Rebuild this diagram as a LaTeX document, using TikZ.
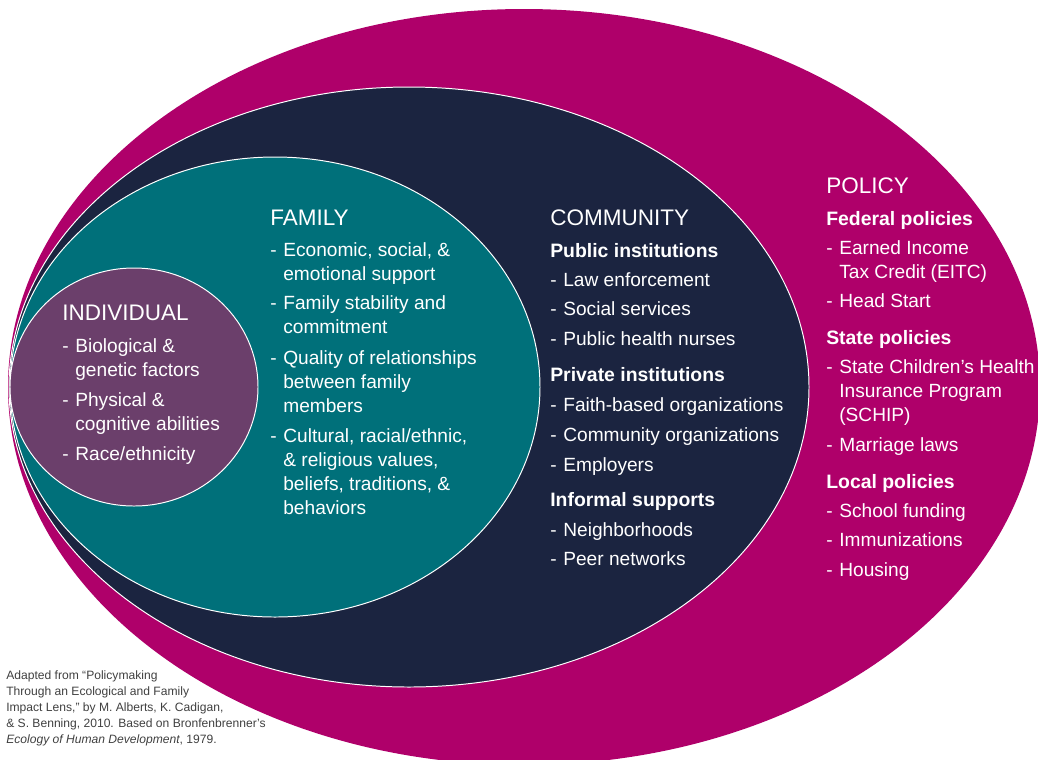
\documentclass[tikz,border=0pt]{standalone}
\usepackage{fontspec}
\setmainfont{Liberation Sans}
\usepackage{tikz}
\usetikzlibrary{calc}

\definecolor{policy}{RGB}{175,0,106}
\definecolor{community}{RGB}{27,36,64}
\definecolor{family}{RGB}{0,112,122}
\definecolor{individual}{RGB}{107,63,107}
\definecolor{note}{RGB}{64,64,64}

% dash, then the (possibly wrapped) lines of one entry
\newcommand{\entry}[1]{\makebox[9.3pt][l]{-}\begin{tabular}[t]{@{}l@{}}#1\end{tabular}}

\tikzset{
	ring/.style={draw=white, line width=0.7pt},
	level/.style={anchor=base west, inner sep=0, text=white, font=\fontsize{16pt}{19pt}\selectfont},
	group/.style={anchor=base west, inner sep=0, text=white, font=\fontsize{13.8pt}{17pt}\selectfont\bfseries},
	item/.style={anchor=base west, inner sep=0, text=white, font=\fontsize{13.6pt}{17.07pt}\selectfont},
}

\begin{document}
\begin{tikzpicture}[x=0.025cm, y=-0.025cm]
	\useasboundingbox (0,0) rectangle (1038,759);
	\clip (0,0) rectangle (1038,759);

	\coordinate (pc) at (524,387);
	\coordinate (cc) at (409,387);
	\coordinate (fc) at (275,387);
	\coordinate (ic) at (134,387);

	\fill[policy] (pc) ellipse [x radius=516, y radius=378];
	\draw[ring, fill=community] (cc) ellipse [x radius=400, y radius=300];
	\draw[ring, fill=family] (fc) ellipse [x radius=265, y radius=230];
	\draw[ring, fill=individual] (ic) ellipse [x radius=124, y radius=119];

	% individual
	\node[level] (ind) at (62,320) {INDIVIDUAL};
	\node[item] (ind1) at (62,352.7) {\entry{Biological \&\\genetic factors}};
	\node[item] (ind2) at (62,406.7) {\entry{Physical \&\\cognitive abilities}};
	\node[item] (ind3) at (62,460) {\entry{Race/ethnicity}};

	% family
	\node[level] (fam) at (270,225) {FAMILY};
	\node[item] (fam1) at (270,256.7) {\entry{Economic, social, \&\\emotional support}};
	\node[item] (fam2) at (270,309.3) {\entry{Family stability and\\commitment}};
	\node[item] (fam3) at (270,364) {\entry{Quality of relationships\\between family\\members}};
	\node[item] (fam4) at (270,442) {\entry{Cultural, racial/ethnic,\\\& religious values,\\beliefs, traditions, \&\\behaviors}};

	% community
	\node[level] (com) at (550,225) {COMMUNITY};
	\node[group] (pub) at (550,257.7) {Public institutions};
	\node[item] (pub1) at (550,286.7) {\entry{Law enforcement}};
	\node[item] (pub2) at (550,315.7) {\entry{Social services}};
	\node[item] (pub3) at (550,345.7) {\entry{Public health nurses}};
	\node[group] (priv) at (550,381) {Private institutions};
	\node[item] (priv1) at (550,411.7) {\entry{Faith-based organizations}};
	\node[item] (priv2) at (550,441) {\entry{Community organizations}};
	\node[item] (priv3) at (550,471) {\entry{Employers}};
	\node[group] (inf) at (550,506.7) {Informal supports};
	\node[item] (inf1) at (550,536.7) {\entry{Neighborhoods}};
	\node[item] (inf2) at (550,565.7) {\entry{Peer networks}};

	% policy
	\node[level] (pol) at (826,193.3) {POLICY};
	\node[group] (fed) at (826,225) {Federal policies};
	\node[item] (fed1) at (826,254) {\entry{Earned Income\\Tax Credit (EITC)}};
	\node[item] (fed2) at (826,307.7) {\entry{Head Start}};
	\node[group] (sta) at (826,344.3) {State policies};
	\node[item] (sta1) at (826,373.3) {\entry{State Children's Health\\Insurance Program\\(SCHIP)}};
	\node[item] (sta2) at (826,451.7) {\entry{Marriage laws}};
	\node[group] (loc) at (826,488.3) {Local policies};
	\node[item] (loc1) at (826,517.7) {\entry{School funding}};
	\node[item] (loc2) at (826,546.7) {\entry{Immunizations}};
	\node[item] (loc3) at (826,576.7) {\entry{Housing}};

	% source
	\node[anchor=base west, inner sep=0, text=note, font=\fontsize{8.6pt}{11.38pt}\selectfont] (src) at (6,679)
		{\begin{tabular}[t]{@{}l@{}}Adapted from “Policymaking\\Through an Ecological and Family\\Impact Lens,” by M. Alberts, K. Cadigan,\\\& S. Benning, 2010. Based on Bronfenbrenner’s\\\textit{Ecology of Human Development}, 1979.\end{tabular}};
\end{tikzpicture}
\end{document}
